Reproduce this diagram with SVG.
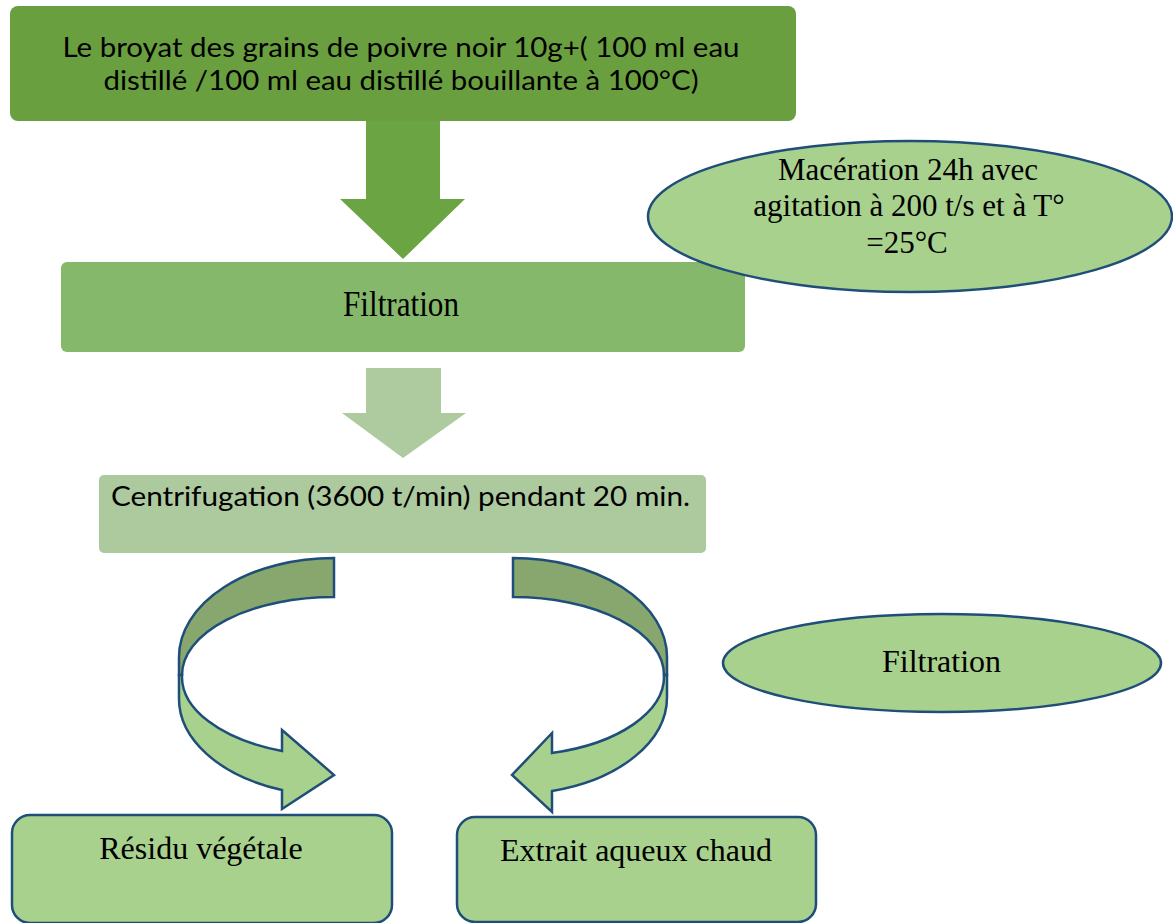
<svg xmlns="http://www.w3.org/2000/svg" width="1173" height="923" viewBox="0 0 1173 923">
<style>
.sans{font-family:Lato,"Liberation Sans",sans-serif;fill:#000;}
.serif{font-family:"Liberation Serif","Times New Roman",serif;fill:#000;}
.lt{fill:#a9d18e;stroke:#1f4e79;stroke-width:2.5;}
.bk{fill:#87a76f;stroke:#1f4e79;stroke-width:2.5;stroke-linejoin:miter;}
</style>
<rect width="1173" height="923" fill="#ffffff"/>
<g id="connectors">
  <polygon id="arrow1" points="366,121 440,121 440,199 465,199 403,259 340,199 366,199" fill="#6ba443"/>
  <polygon id="arrow2" points="366,368 441,368 441,413 466,413 403,458 342,413 366,413" fill="#aecb9f"/>
  <g id="curved-left">
    <path class="bk" d="M334,558 L334,597 A152,78 0 0 0 182,675 L179,675 L179,657 A155,99 0 0 1 334,558 Z"/>
    <path class="lt" d="M182,675 A152,79 0 0 0 282,751 L282,730 L334,775 L282,809 L282,790 A155,97 0 0 1 179,697 L179,675 Z"/>
  </g>
  <g id="curved-right">
    <path class="bk" d="M513,558 L513,597 A151,78 0 0 1 664,675 L667,675 L667,657 A154,99 0 0 0 513,558 Z"/>
    <path class="lt" d="M664,675 A151,79 0 0 1 552,753 L552,733 L512,775 L552,812 L552,791 A154,97 0 0 0 667,697 L667,675 Z"/>
  </g>
</g>
<g id="node-broyat">
  <rect x="10" y="6" width="786" height="115" rx="8" fill="#6a9f3f"/>
  <text class="sans" x="401" y="57" font-size="27" text-anchor="middle" textLength="677" lengthAdjust="spacingAndGlyphs">Le broyat des grains de poivre noir 10g+( 100 ml eau</text>
  <text class="sans" x="401" y="90" font-size="27" text-anchor="middle" textLength="595" lengthAdjust="spacingAndGlyphs">distillé /100 ml eau distillé bouillante à 100°C)</text>
</g>
<g id="node-filtration1">
  <rect x="61" y="262" width="684" height="90" rx="6" fill="#86b86b"/>
  <text class="serif" x="401" y="316" font-size="35" text-anchor="middle" textLength="116" lengthAdjust="spacingAndGlyphs">Filtration</text>
</g>
<g id="node-maceration">
  <ellipse class="lt" cx="910" cy="216.5" rx="262" ry="75.5"/>
  <text class="serif" x="908" y="180" font-size="31" text-anchor="middle">Macération 24h avec</text>
  <text class="serif" x="909" y="216" font-size="31" text-anchor="middle">agitation à 200 t/s et à T°</text>
  <text class="serif" x="907" y="253" font-size="31" text-anchor="middle">=25°C</text>
</g>
<g id="node-centrifugation">
  <rect x="99" y="475" width="607" height="78" rx="5" fill="#adc99e"/>
  <text class="sans" x="111" y="506" font-size="27" textLength="579" lengthAdjust="spacingAndGlyphs">Centrifugation (3600 t/min) pendant 20 min.</text>
</g>
<g id="node-filtration2">
  <ellipse class="lt" cx="942" cy="663" rx="219" ry="49"/>
  <text class="serif" x="941.5" y="672" font-size="32" text-anchor="middle">Filtration</text>
</g>
<g id="node-residu">
  <rect class="lt" x="12" y="815" width="380" height="108" rx="18"/>
  <text class="serif" x="201" y="859" font-size="32" text-anchor="middle">Résidu végétale</text>
</g>
<g id="node-extrait">
  <rect class="lt" x="457" y="817" width="359" height="105" rx="18"/>
  <text class="serif" x="636" y="861" font-size="32" text-anchor="middle">Extrait aqueux chaud</text>
</g>
</svg>
